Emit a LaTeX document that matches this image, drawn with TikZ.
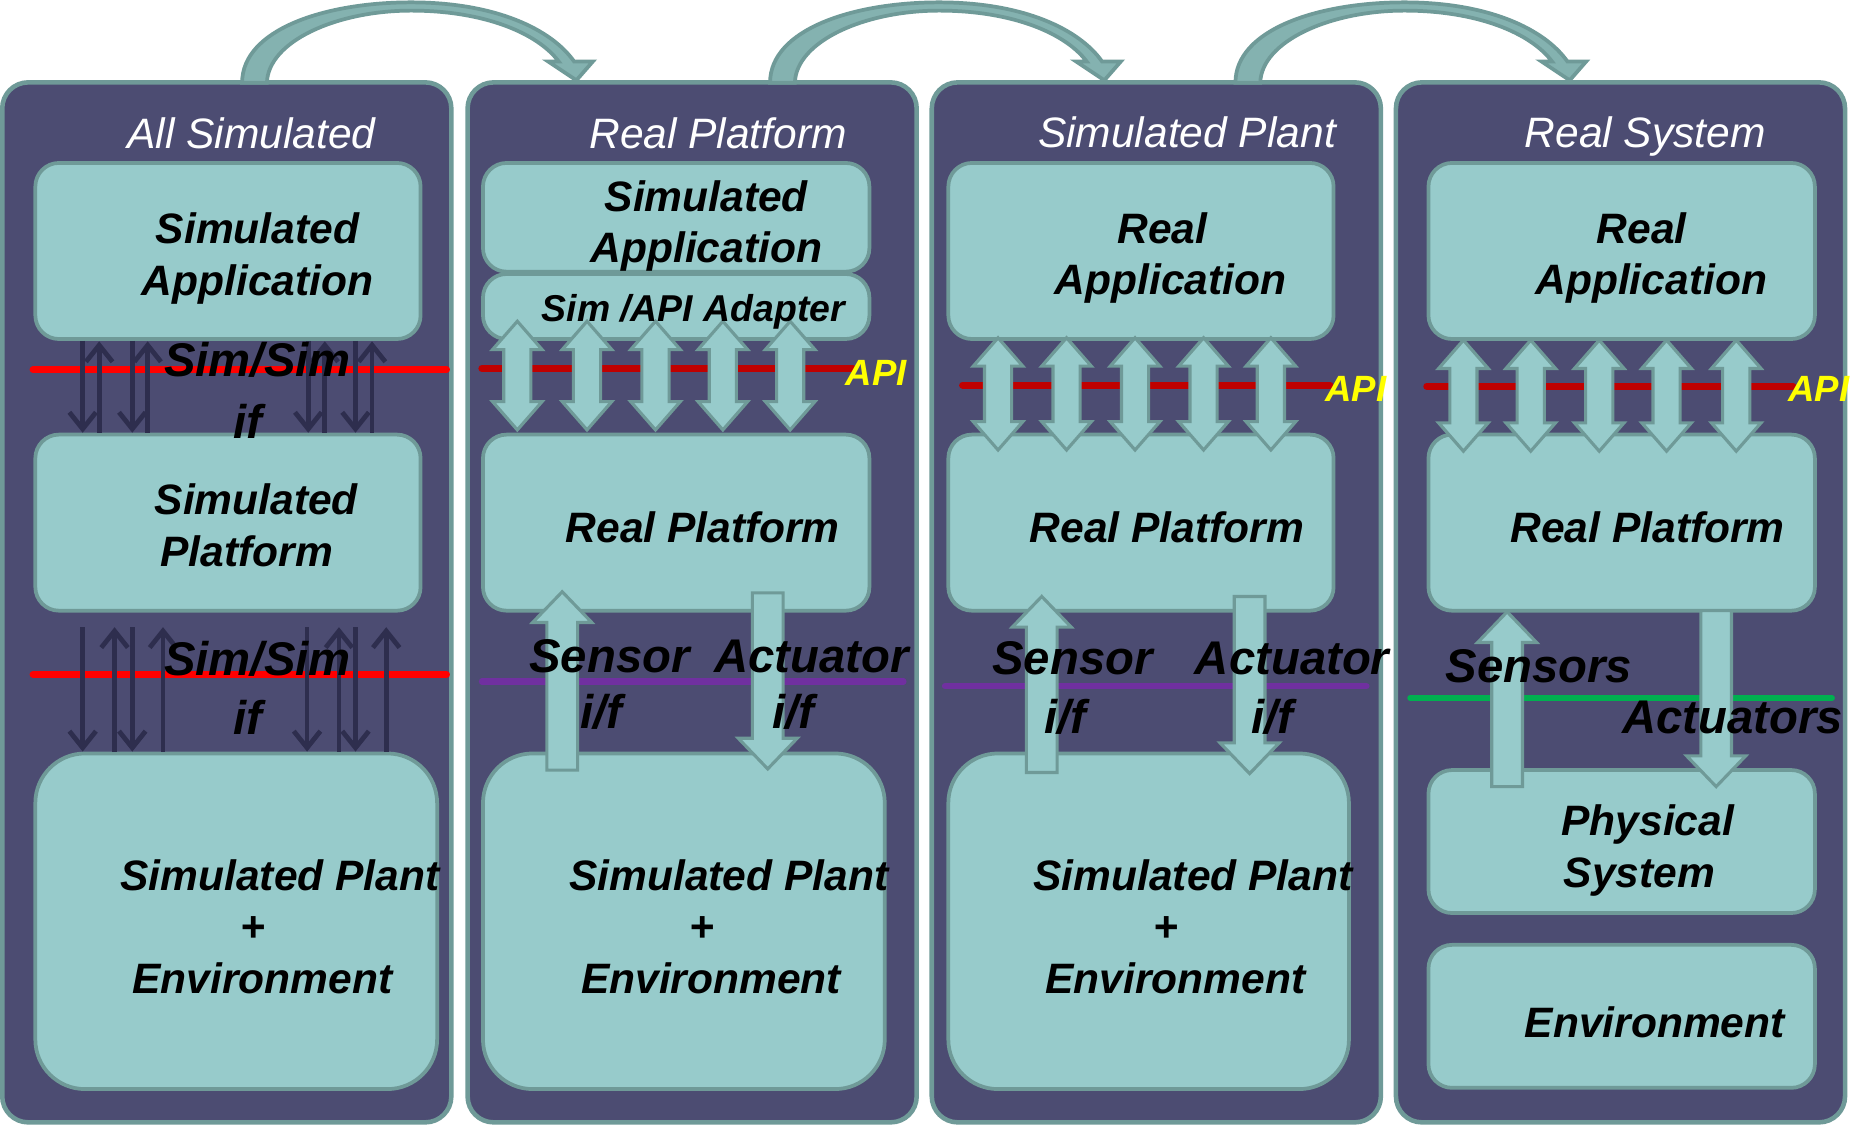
\documentclass[tikz,border=0pt]{standalone}
\usepackage{fontspec}
\setmainfont{Liberation Sans}
\usetikzlibrary{arrows.meta}
\definecolor{panelfill}{RGB}{76,76,114}
\definecolor{edge}{RGB}{111,154,152}
\definecolor{boxfill}{RGB}{151,203,203}
\definecolor{redA}{RGB}{255,0,0}
\definecolor{redB}{RGB}{192,0,0}
\definecolor{purp}{RGB}{112,48,160}
\definecolor{grn}{RGB}{0,176,80}
\definecolor{thinarr}{RGB}{46,46,78}
\definecolor{arcfill}{RGB}{132,178,176}
\definecolor{apiyellow}{RGB}{255,255,0}

\tikzset{
 panel/.style={draw=edge, fill=panelfill, line width=1.1pt, rounded corners=0.22cm, minimum width=3.8cm, minimum height=8.8cm, inner sep=0pt},
 ibox/.style={draw=edge, fill=boxfill, line width=0.9pt, rounded corners=0.2cm, inner sep=0pt},
 plantbox/.style={ibox, rounded corners=0.42cm},
 ttl/.style={text=white, font=\fontsize{10.24pt}{12pt}\selectfont\itshape, anchor=base, inner sep=0pt},
 lbl/.style={text=black, font=\fontsize{10.24pt}{12pt}\selectfont\bfseries\itshape, anchor=base, inner sep=0pt},
 biglbl/.style={lbl, font=\fontsize{11.38pt}{13pt}\selectfont\bfseries\itshape},
 adlbl/.style={lbl, font=\fontsize{9pt}{10pt}\selectfont\bfseries\itshape},
 apilbl/.style={text=apiyellow, font=\fontsize{8.8pt}{10pt}\selectfont\bfseries\itshape, anchor=base, inner sep=0pt},
 ifline/.style={line width=1.7pt, line cap=round},
 tarr/.style={draw=thinarr, line width=1.15pt, -{Straight Barb[length=4pt,width=6.4pt]}},
 blockarr/.style={draw=edge, fill=boxfill, line width=0.75pt},
 curvearr/.style={draw=edge, fill=arcfill, line width=0.9pt},
}

\newcommand\dblarr[3]{%
\draw[blockarr] (#1,#2) -- ({#1+21},{#2+24}) -- ({#1+11.5},{#2+24}) -- ({#1+11.5},{#3-24}) -- ({#1+21},{#3-24}) -- (#1,#3) -- ({#1-21},{#3-24}) -- ({#1-11.5},{#3-24}) -- ({#1-11.5},{#2+24}) -- ({#1-21},{#2+24}) -- cycle;}
\newcommand\uparr[3]{%
\draw[blockarr] (#1,#2) -- ({#1+25},{#2+26}) -- ({#1+13},{#2+26}) -- ({#1+13},#3) -- ({#1-13},#3) -- ({#1-13},{#2+26}) -- ({#1-25},{#2+26}) -- cycle;}
\newcommand\dnarr[3]{%
\draw[blockarr] ({#1-13},#2) -- ({#1+13},#2) -- ({#1+13},{#3-26}) -- ({#1+25},{#3-26}) -- (#1,#3) -- ({#1-25},{#3-26}) -- ({#1-13},{#3-26}) -- cycle;}
\newcommand\bigcurve[1]{%
\begin{scope}[shift={(#1,0)}]
\draw[curvearr] (0,70) .. controls (0,25) and (70,2) .. (143,2) .. controls (215,2) and (262,25) .. (281,52) -- (297,52) -- (283,68) -- (259,52) -- (268,52) .. controls (250,28) and (205,9) .. (143,9) .. controls (80,9) and (22,35) .. (21,70) -- cycle;
\end{scope}}

\begin{document}
\begin{tikzpicture}[x=0.01cm, y=-0.01cm]
\useasboundingbox (0,0) rectangle (1568,952);
\fill[white] (0,0) rectangle (1568,952);

% panels
\node[panel] (PA) at (192,510) {};
\node[panel] (PB) at (586,510) {};
\node[panel] (PC) at (979,510) {};
\node[panel] (PD) at (1372,510) {};

% curved arrows between panels
\bigcurve{205}
\bigcurve{652}
\bigcurve{1046}

% ---------- Panel 1 ----------
\node[ibox, minimum width=3.26cm, minimum height=1.49cm] (A1) at (193,212.5) {};
\node[ibox, minimum width=3.26cm, minimum height=1.49cm] (B1) at (193,442.5) {};
\node[plantbox, minimum width=3.4cm, minimum height=2.84cm] (C1) at (200,780) {};
\draw[ifline, redA] (28,313) -- (378,313);
\draw[ifline, redA] (28,571) -- (378,571);
\foreach \x in {70,112,261,301} \draw[tarr] (\x,0 |- A1.south) -- (\x,0 |- B1.north);
\foreach \x in {84,125,275,315} \draw[tarr] (\x,0 |- B1.north) -- (\x,289);
\foreach \x in {70,112,260,301} \draw[tarr] (\x,531) -- (\x,0 |- C1.north);
\foreach \x in {97,138,287,327} \draw[tarr] (\x,0 |- C1.north) -- (\x,531);

\node[ttl] (tA) at (213,126) {All Simulated};
\node[lbl] (a1a) at (218,206) {Simulated};
\node[lbl] (a1b) at (218,250) {Application};
\node[biglbl] (s1a) at (218,319) {Sim/Sim};
\node[biglbl] (s1b) at (210,371) {if};
\node[lbl] (b1a) at (217,436) {Simulated};
\node[lbl] (b1b) at (209,480) {Platform};
\node[biglbl] (s2a) at (218,572) {Sim/Sim};
\node[biglbl] (s2b) at (210,622) {if};
\node[lbl] (c1a) at (237,754) {Simulated Plant};
\node[lbl] (c1b) at (214,797) {+};
\node[lbl] (c1c) at (222,841) {Environment};

% ---------- Panel 2 ----------
\node[ibox, minimum width=3.27cm, minimum height=0.92cm] (A2) at (572.5,184) {};
\node[ibox, minimum width=3.27cm, minimum height=0.55cm] (D2) at (572.5,259.5) {};
\node[ibox, minimum width=3.27cm, minimum height=1.49cm] (B2) at (572.5,442.5) {};
\node[plantbox, minimum width=3.4cm, minimum height=2.84cm] (C2) at (579,780) {};
\draw[ifline, redB] (408,312) -- (722,312);
\draw[ifline, purp, line width=1.45pt] (408,577) -- (765,577);
\foreach \x in {438,497,555,612,669} {\dblarr{\x}{272}{364}}
\uparr{476}{501}{652}
\dnarr{650}{502}{651}

\node[ttl] (tB) at (608,126) {Real Platform};
\node[lbl] (a2a) at (598,179) {Simulated};
\node[lbl] (a2b) at (598,222) {Application};
\node[adlbl] (d2) at (587,272) {Sim /API Adapter};
\node[apilbl] (api2) at (742,326) {API};
\node[lbl] (b2) at (595,459) {Real Platform};
\node[biglbl] (sn2) at (516,569) {Sensor};
\node[biglbl] (sn2b) at (509,617) {i/f};
\node[biglbl] (ac2) at (687,569) {Actuator};
\node[biglbl] (ac2b) at (672,617) {i/f};
\node[lbl] (c2a) at (617,754) {Simulated Plant};
\node[lbl] (c2b) at (594,797) {+};
\node[lbl] (c2c) at (602,841) {Environment};

% ---------- Panel 3 ----------
\node[ibox, minimum width=3.26cm, minimum height=1.49cm] (A3) at (966,212.5) {};
\node[ibox, minimum width=3.26cm, minimum height=1.49cm] (B3) at (966,442.5) {};
\node[plantbox, minimum width=3.39cm, minimum height=2.84cm] (C3) at (972.5,780) {};
\draw[ifline, redB] (815,326) -- (1126,326);
\draw[ifline, purp, line width=1.45pt] (800,581) -- (1157,581);
\foreach \x in {845,903,961,1019,1076} {\dblarr{\x}{286}{381}}
\uparr{882}{505}{654}
\dnarr{1058}{505}{655}

\node[ttl] (tC) at (1005,125) {Simulated Plant};
\node[lbl] (a3a) at (984,206) {Real};
\node[lbl] (a3b) at (991,249) {Application};
\node[apilbl] (api3) at (1148,340) {API};
\node[lbl] (b3) at (988,459) {Real Platform};
\node[biglbl] (sn3) at (908,571) {Sensor};
\node[biglbl] (sn3b) at (902,621) {i/f};
\node[biglbl] (ac3) at (1094,571) {Actuator};
\node[biglbl] (ac3b) at (1077,621) {i/f};
\node[lbl] (c3a) at (1010,754) {Simulated Plant};
\node[lbl] (c3b) at (987,797) {+};
\node[lbl] (c3c) at (995,841) {Environment};

% ---------- Panel 4 ----------
\node[ibox, minimum width=3.27cm, minimum height=1.49cm] (A4) at (1373,212.5) {};
\node[ibox, minimum width=3.27cm, minimum height=1.49cm] (B4) at (1373,442.5) {};
\node[ibox, minimum width=3.27cm, minimum height=1.21cm] (E4) at (1373,712.5) {};
\node[ibox, minimum width=3.27cm, minimum height=1.21cm] (F4) at (1373,860.5) {};
\draw[ifline, redB] (1208,327) -- (1518,327);
\draw[ifline, grn, line width=1.45pt] (1194,591) -- (1551,591);
\foreach \x in {1239,1296,1354,1411,1470} {\dblarr{\x}{288}{382}}
\uparr{1276}{518}{666}
\dnarr{1453}{517}{666}

\node[ttl] (tD) at (1393,125) {Real System};
\node[lbl] (a4a) at (1390,206) {Real};
\node[lbl] (a4b) at (1398,249) {Application};
\node[apilbl] (api4) at (1540,340) {API};
\node[lbl] (b4) at (1395,459) {Real Platform};
\node[biglbl] (sn4) at (1303,578) {Sensors};
\node[biglbl] (ac4) at (1467,621) {Actuators};
\node[lbl] (e4a) at (1395,707) {Physical};
\node[lbl] (e4b) at (1388,751) {System};
\node[lbl] (f4) at (1401,878) {Environment};
\end{tikzpicture}
\end{document}
